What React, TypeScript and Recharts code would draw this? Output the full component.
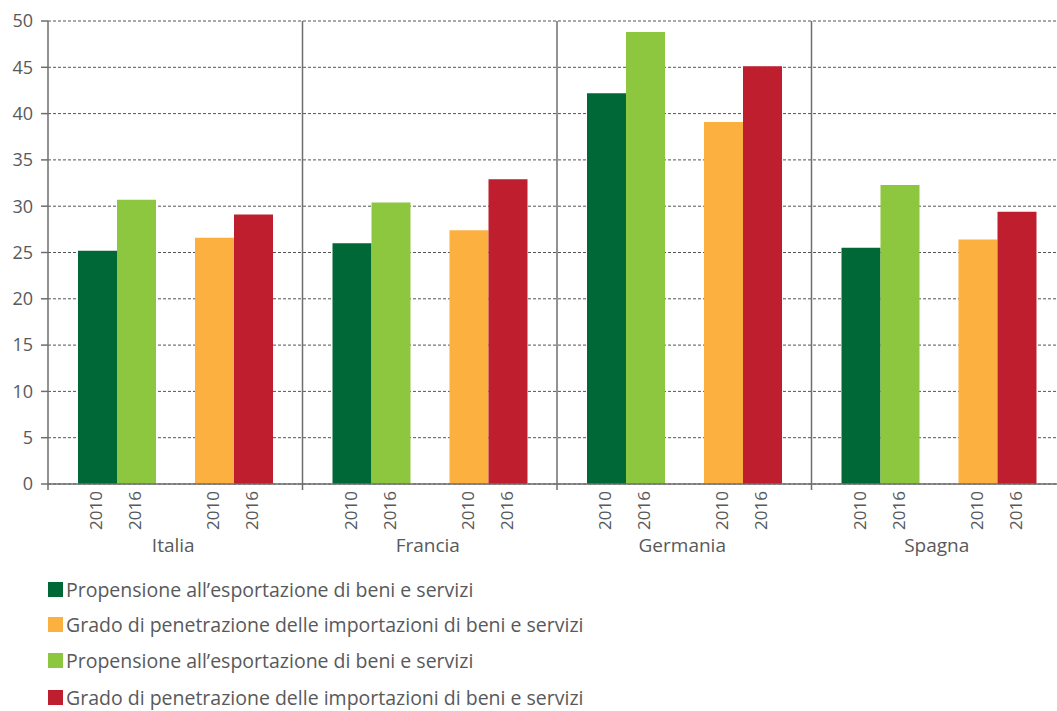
import React from 'react';
import { BarChart, Bar, XAxis, YAxis, CartesianGrid } from 'recharts';

const categories = ['Italia', 'Francia', 'Germania', 'Spagna'];
const export2010 = [25.2, 26.0, 42.2, 25.5];
const export2016 = [30.7, 30.4, 48.8, 32.3];
const import2010 = [26.6, 27.4, 39.1, 26.4];
const import2016 = [29.1, 32.9, 45.1, 29.4];
const yearLabels = ['2010', '2016', '2010', '2016'];
const yTicks = [0, 5, 10, 15, 20, 25, 30, 35, 40, 45, 50];

const legendItems = [
  { label: 'Propensione all\u2019esportazione di beni e servizi', color: '#006837' },
  { label: 'Grado di penetrazione delle importazioni di beni e servizi', color: '#fbb040' },
  { label: 'Propensione all\u2019esportazione di beni e servizi', color: '#8dc63f' },
  { label: 'Grado di penetrazione delle importazioni di beni e servizi', color: '#be1e2d' },
];
const legendRowCenters = [589, 624, 660.5, 697];

const data = categories.map((c, i) => ({
  country: c,
  exp2010: export2010[i],
  exp2016: export2016[i],
  imp2010: import2010[i],
  imp2016: import2016[i],
}));

const CHART_W = 1066;
const CHART_H = 560;
const Y_AXIS_W = 48;
const TOP = 21;
const X_AXIS_H = 76;
const PLOT_H = CHART_H - TOP - X_AXIS_H;
const BAR_SIZE = 39;
const BAND = (CHART_W - Y_AXIS_W) / categories.length;
const TEXT = '#58595b';
const AXIS = '#6d6e71';

const barOffsets = [-2, -1, 1, 2];

const CountryTick = (props: any) => {
  const { x, y, payload } = props;
  const left = x - BAND / 2;
  return (
    <g>
      <line x1={left} x2={left} y1={y - PLOT_H} y2={y + 6} stroke={AXIS} strokeWidth={1.5} />
      {barOffsets.map((o, i) => {
        const bx = x + o * BAR_SIZE - 1.5;
        const ty = y + 7;
        return (
          <text
            key={i}
            x={bx}
            y={ty}
            transform={`rotate(-90 ${bx} ${ty})`}
            textAnchor="end"
            dominantBaseline="central"
            fontSize={17}
            fill={TEXT}
          >
            {yearLabels[i]}
          </text>
        );
      })}
      <text x={x - 2} y={y + 68} textAnchor="middle" fontSize={19} fill={TEXT}>
        {payload.value}
      </text>
    </g>
  );
};

export default function App() {
  return (
    <div
      style={{
        position: 'absolute',
        left: 0,
        top: 0,
        width: 1057,
        height: 711,
        overflow: 'hidden',
        fontFamily: '"Open Sans", sans-serif',
        background: '#fff',
      }}
    >
      <BarChart
        width={CHART_W}
        height={CHART_H}
        data={data}
        margin={{ top: TOP, right: 0, left: 0, bottom: 0 }}
        barGap={0}
        barSize={BAR_SIZE}
        style={{ fontFamily: '"Open Sans", sans-serif' }}
      >
        <CartesianGrid vertical={false} stroke="#555" strokeDasharray="3 2" />
        <XAxis
          dataKey="country"
          height={X_AXIS_H}
          tickLine={false}
          tickSize={0}
          tickMargin={0}
          axisLine={{ stroke: AXIS, strokeWidth: 1.5 }}
          tick={<CountryTick />}
          interval={0}
        />
        <YAxis
          width={Y_AXIS_W}
          domain={[0, 50]}
          ticks={yTicks}
          interval={0}
          axisLine={false}
          tickLine={{ stroke: AXIS, strokeWidth: 1.5 }}
          tickSize={7}
          tickMargin={8}
          tick={{ fill: TEXT, fontSize: 18 }}
        />
        <Bar dataKey="exp2010" fill="#006837" isAnimationActive={false} />
        <Bar dataKey="exp2016" fill="#8dc63f" isAnimationActive={false} />
        <Bar dataKey="spacer" fill="none" isAnimationActive={false} />
        <Bar dataKey="imp2010" fill="#fbb040" isAnimationActive={false} />
        <Bar dataKey="imp2016" fill="#be1e2d" isAnimationActive={false} />
      </BarChart>
      {legendItems.map((it, i) => (
        <div
          key={i}
          style={{
            position: 'absolute',
            left: 48,
            top: legendRowCenters[i] - 14,
            height: 28,
            display: 'flex',
            alignItems: 'center',
            fontSize: 19.5,
            color: TEXT,
            whiteSpace: 'nowrap',
          }}
        >
          <span
            style={{ display: 'inline-block', width: 15, height: 15, background: it.color, marginRight: 3 }}
          />
          {it.label}
        </div>
      ))}
    </div>
  );
}
